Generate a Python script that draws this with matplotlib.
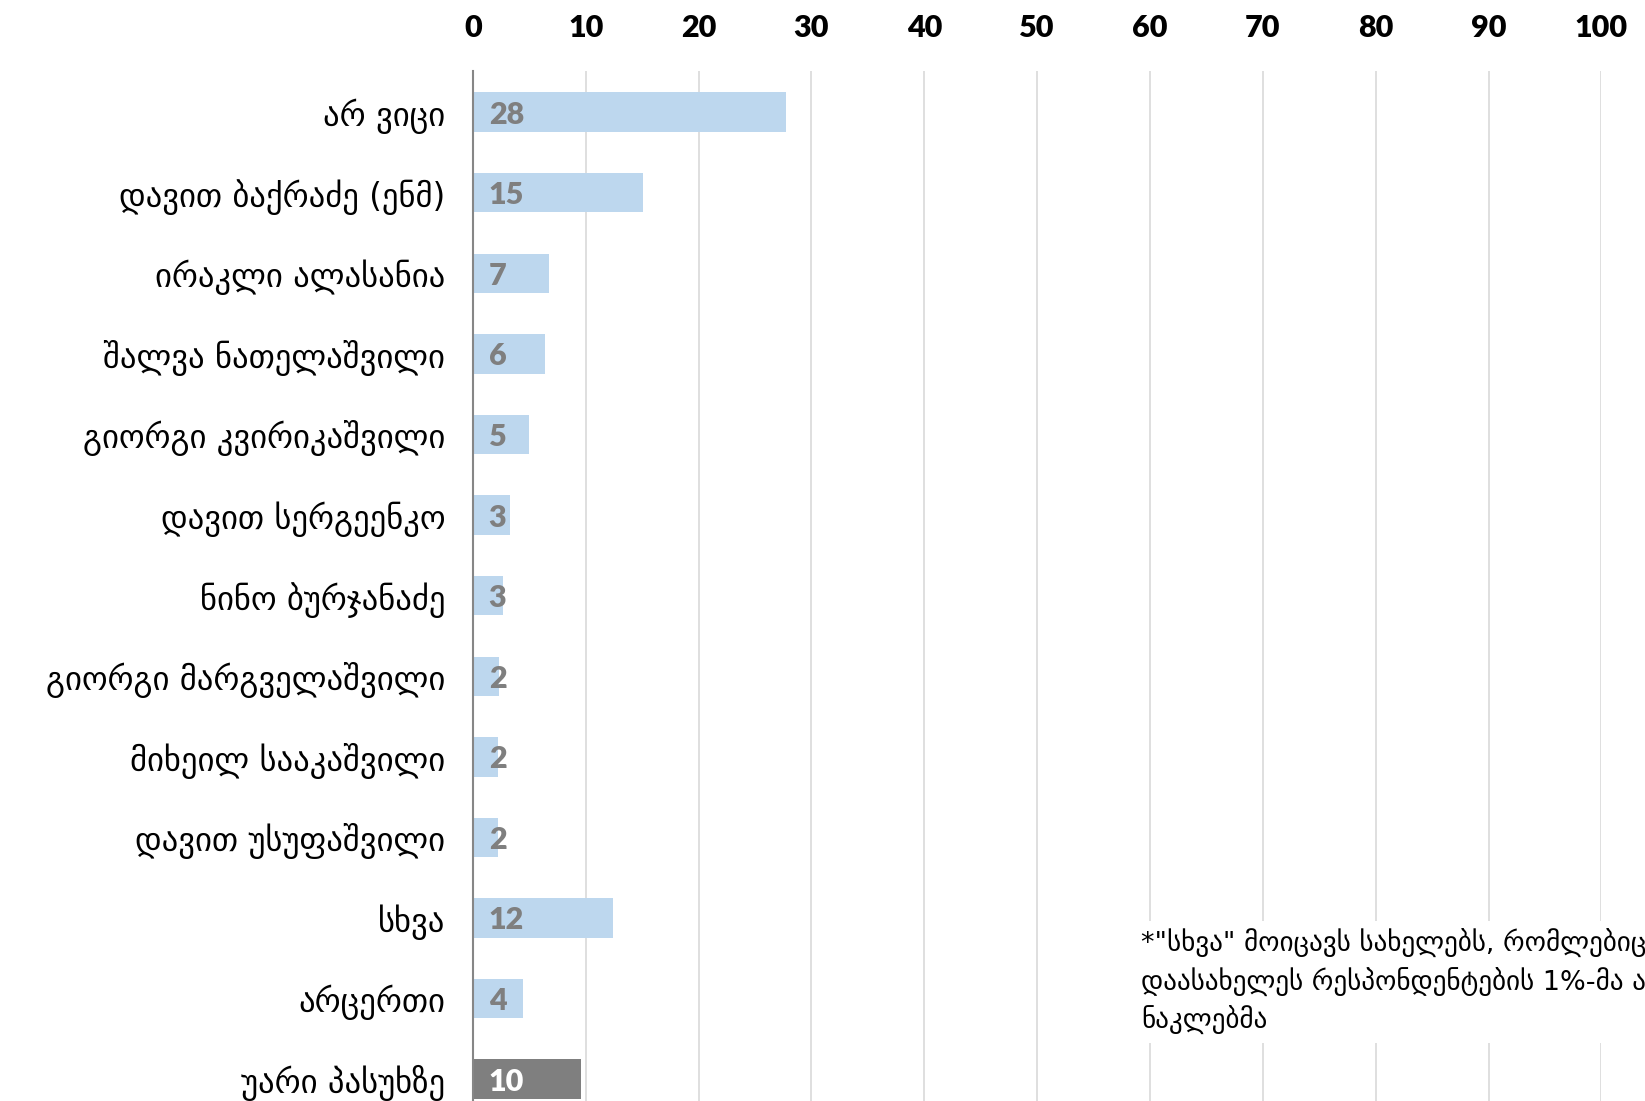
import matplotlib
matplotlib.use("Agg")
import matplotlib.pyplot as plt

# data
kategoriebi = ["არ ვიცი", "დავით ბაქრაძე (ენმ)", "ირაკლი ალასანია", "შალვა ნათელაშვილი",
               "გიორგი კვირიკაშვილი", "დავით სერგეენკო", "ნინო ბურჯანაძე",
               "გიორგი მარგველაშვილი", "მიხეილ სააკაშვილი", "დავით უსუფაშვილი",
               "სხვა", "არცერთი", "უარი პასუხზე"]
mnishvneloba = [27.7, 15.1, 6.7, 6.4, 5.0, 3.3, 2.7, 2.3, 2.2, 2.2, 12.4, 4.4, 9.6]
ferebi = ["#bdd7ee"] * 12 + ["#7f7f7f"]
label_ferebi = ["#7f7f7f"] * 12 + ["white"]
shenishvna = '*"სხვა" მოიცავს სახელებს, რომლებიც\nდაასახელეს რესპონდენტების 1%-მა ან\nნაკლებმა'

fig = plt.figure(figsize=(16.45, 11.01), dpi=100)
ax = fig.add_axes([0.2875, 0.0, 0.686, 0.9355])

pos = range(len(kategoriebi))
ax.barh(pos, mnishvneloba, height=0.49, color=ferebi, zorder=2)

for i, v in enumerate(mnishvneloba):
    ax.text(1.4, i + 0.03, "%.0f" % v, va="center", ha="left", fontsize=22, fontweight="heavy",
            color=label_ferebi[i], family=["Lato", "DejaVu Sans"], zorder=3)

ax.set_xlim(0, 100)
ax.set_ylim(12.27, -0.51)
ax.set_xticks(range(0, 101, 10))
ax.xaxis.tick_top()
ax.tick_params(axis="x", length=0, pad=21)
for t in ax.get_xticklabels():
    t.set_fontsize(22)
    t.set_fontweight("heavy")
    t.set_family(["Lato", "DejaVu Sans"])

ax.set_yticks(list(pos))
ax.set_yticklabels(kategoriebi, fontsize=23.5, family=["DejaVu Sans"])
ax.tick_params(axis="y", length=0, pad=20)

ax.grid(axis="x", color="#d9d9d9", linewidth=1.2, zorder=0)
for s in ["top", "right", "bottom"]:
    ax.spines[s].set_visible(False)
ax.spines["left"].set_color("#868686")
ax.spines["left"].set_linewidth(1.5)
ax.spines["left"].set_zorder(4)

fig.text(1141 / 1645, 1 - 982 / 1101, shenishvna, fontsize=19.5, va="center", ha="left",
         linespacing=1.4, family=["DejaVu Sans"],
         bbox=dict(facecolor="white", edgecolor="none", pad=6))

fig.savefig("out.png", dpi=100)
